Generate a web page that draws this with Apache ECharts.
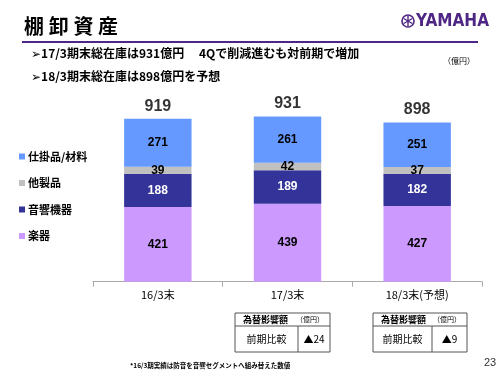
<!DOCTYPE html>
<html>
<head>
<meta charset="utf-8">
<script src="https://cdn.jsdelivr.net/npm/echarts@6/dist/echarts.min.js"></script>
<style>html,body{margin:0;padding:0;background:#fff;}#c{width:500px;height:375px;}</style>
</head>
<body>
<div id="c"></div>
<script>
var categories = ['16/3末', '17/3末', '18/3末(予想)'];
var instruments = [421, 439, 427];   // 楽器
var audio = [188, 189, 182];         // 音響機器
var other = [39, 42, 37];            // 他製品
var wip = [271, 261, 251];           // 仕掛品/材料
var totals = [919, 931, 898];
var seriesNames = ['楽器', '音響機器', '他製品', '仕掛品/材料'];
var fxDiff = ['▲24', '▲9'];
var titleChars = ['棚', '卸', '資', '産'];

var JP = '"Noto Sans CJK JP", "DejaVu Sans", sans-serif';
var PURPLE = '#4e2683';

var chart = echarts.init(document.getElementById('c'), null, {renderer: 'canvas'});

function barSeries(name, data, color, labelColor) {
  return {
    name: name, type: 'bar', stack: 'total', data: data, barWidth: '52%',
    itemStyle: {color: color},
    label: {show: true, position: 'inside', color: labelColor, fontSize: 12, fontWeight: 'bold', fontFamily: 'Liberation Sans, Arial, sans-serif'},
    emphasis: {disabled: true}
  };
}

function table(x, y, w, h, hh, sep, val) {
  return [
    {type: 'rect', shape: {x: x, y: y, width: w, height: h}, style: {fill: 'none', stroke: '#555', lineWidth: 1}},
    {type: 'line', shape: {x1: x, y1: y + hh, x2: x + w, y2: y + hh}, style: {stroke: '#555', lineWidth: 1}},
    {type: 'line', shape: {x1: sep, y1: y + hh, x2: sep, y2: y + h}, style: {stroke: '#555', lineWidth: 1}},
    {type: 'text', style: {x: x + 8, y: y + hh / 2, text: '為替影響額', fontSize: 9, fontWeight: 'bold', fontFamily: JP, fill: '#000', textVerticalAlign: 'middle'}},
    {type: 'text', style: {x: x + w - 6, y: y + hh / 2, text: '（億円）', fontSize: 7, fontFamily: JP, fill: '#000', textAlign: 'right', textVerticalAlign: 'middle'}},
    {type: 'text', style: {x: (x + sep) / 2, y: y + hh + (h - hh) / 2, text: '前期比較', fontSize: 10, fontFamily: JP, fill: '#000', textAlign: 'center', textVerticalAlign: 'middle'}},
    {type: 'text', style: {x: (sep + x + w) / 2, y: y + hh + (h - hh) / 2, text: val, fontSize: 10, fontFamily: JP, fill: '#000', textAlign: 'center', textVerticalAlign: 'middle'}}
  ];
}

var titleGraphics = titleChars.map(function (ch, i) {
  return {type: 'text', style: {x: 24 + i * 24.7, y: 26, text: ch, fontSize: 20, fontWeight: 'bold', fontFamily: JP, fill: '#000', textVerticalAlign: 'middle'}};
});

var graphics = titleGraphics.concat([
  {type: 'line', shape: {x1: 22, y1: 42, x2: 478, y2: 42}, style: {stroke: PURPLE, lineWidth: 2}},
  // logo
  {type: 'circle', shape: {cx: 408, cy: 21, r: 6}, style: {fill: 'none', stroke: PURPLE, lineWidth: 1.6}},
  {type: 'line', shape: {x1: 408, y1: 16, x2: 408, y2: 26}, style: {stroke: PURPLE, lineWidth: 1.4}},
  {type: 'line', shape: {x1: 403.7, y1: 18.5, x2: 412.3, y2: 23.5}, style: {stroke: PURPLE, lineWidth: 1.4}},
  {type: 'line', shape: {x1: 403.7, y1: 23.5, x2: 412.3, y2: 18.5}, style: {stroke: PURPLE, lineWidth: 1.4}},
  {type: 'text', style: {x: 416, y: 21.5, text: 'YAMAHA', fontSize: 17, fontWeight: 'bold', fontFamily: '"Liberation Sans Narrow", "DejaVu Sans Condensed", "Liberation Sans", sans-serif', fill: PURPLE, textVerticalAlign: 'middle'}},
  // bullets
  {type: 'text', style: {x: 31, y: 53, text: '➢17/3期末総在庫は931億円　 4Qで削減進むも対前期で増加', fontSize: 12, fontWeight: 'bold', fontFamily: JP, fill: '#000', textVerticalAlign: 'middle'}},
  {type: 'text', style: {x: 31, y: 76, text: '➢18/3期末総在庫は898億円を予想', fontSize: 12, fontWeight: 'bold', fontFamily: JP, fill: '#000', textVerticalAlign: 'middle'}},
  {type: 'text', style: {x: 443, y: 61, text: '（億円）', fontSize: 8, fontFamily: JP, fill: '#000', textVerticalAlign: 'middle'}},
  // footnote and page number
  {type: 'text', style: {x: 130, y: 366, text: '*16/3期実績は防音を音響セグメントへ組み替えた数値', fontSize: 6.5, fontWeight: 'bold', fontFamily: JP, fill: '#000', textVerticalAlign: 'middle'}},
  {type: 'text', style: {x: 484, y: 363, text: '23', fontSize: 11, fontFamily: 'Liberation Sans, Arial, sans-serif', fill: '#333', textVerticalAlign: 'middle'}}
]).concat(table(235, 313, 95, 39, 13, 298, fxDiff[0])).concat(table(373, 313, 94, 39, 13, 432, fxDiff[1]));

var option = {
  animation: false,
  backgroundColor: '#fff',
  grid: {left: 93, right: 18, top: 104.3, bottom: 93.3},
  legend: {
    orient: 'vertical', left: 14, top: 146, itemGap: 15.5,
    icon: 'rect', itemWidth: 6, itemHeight: 6,
    data: ['仕掛品/材料', '他製品', '音響機器', '楽器'],
    textStyle: {fontSize: 11, fontWeight: 'bold', fontFamily: JP, color: '#000', padding: [0, 0, 0, -2]},
    selectedMode: false
  },
  xAxis: {
    type: 'category', data: categories,
    axisLine: {lineStyle: {color: '#aaa', width: 1}},
    axisTick: {show: true, length: 5, lineStyle: {color: '#aaa'}},
    axisLabel: {color: '#000', fontSize: 11, fontFamily: JP, margin: 8}
  },
  yAxis: {type: 'value', min: 0, max: 1000, show: false, splitLine: {show: false}},
  series: [
    barSeries(seriesNames[0], instruments, '#cc99ff', '#000'),
    barSeries(seriesNames[1], audio, '#333399', '#fff'),
    barSeries(seriesNames[2], other, '#c0c0c0', '#000'),
    barSeries(seriesNames[3], wip, '#6699ff', '#000'),
    {
      type: 'scatter', data: totals, symbolSize: 1, itemStyle: {color: 'rgba(0,0,0,0)'},
      label: {show: true, position: 'top', distance: 4, color: '#000', fontSize: 16, fontWeight: 'bold', fontFamily: 'Liberation Sans, Arial, sans-serif'},
      emphasis: {disabled: true}, z: 5
    }
  ],
  graphic: graphics
};
chart.setOption(option);
</script>
</body>
</html>
